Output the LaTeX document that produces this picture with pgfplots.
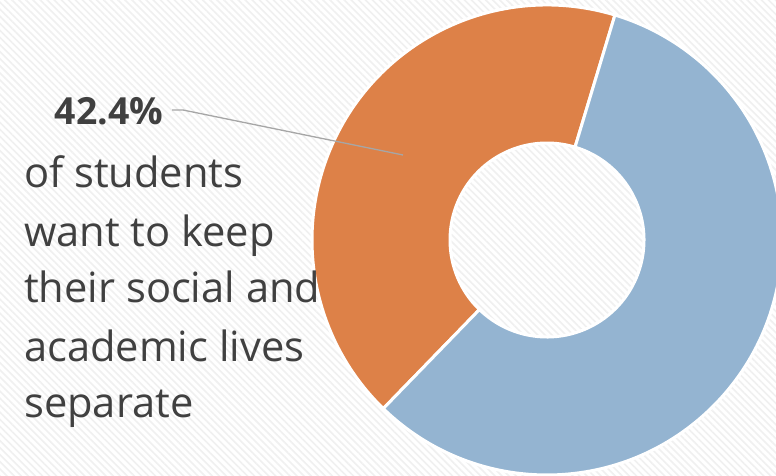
\documentclass[border=0pt]{standalone}
\usepackage{pgfplots}
\pgfplotsset{compat=1.18}
\usepackage{pgfplotstable}
\usetikzlibrary{patterns.meta}
\usepackage{fontspec}
\setmainfont{Open Sans}
\definecolor{cOrange}{RGB}{221,129,72}
\definecolor{cBlue}{RGB}{148,180,209}
\definecolor{cText}{RGB}{64,64,64}
\definecolor{cLeader}{RGB}{166,166,166}
\pgfplotstableread{
label value
separate 42.4
other 57.6
}\donutdata
\pgfplotstablegetelem{0}{value}\of\donutdata
\let\vSep\pgfplotsretval
\begin{document}
\begin{tikzpicture}
\begin{axis}[
  scale only axis, width=776bp, height=476bp,
  xmin=0, xmax=776, ymin=0, ymax=476,
  hide axis, clip=true,
]
\fill[white] (axis cs:0,0) rectangle (axis cs:776,476);
\fill[pattern={Lines[angle=-45,distance=5bp,line width=1.6bp]}, pattern color=black!6] (axis cs:0,0) rectangle (axis cs:776,476);
\pgfmathsetmacro\aStart{73.2}
\pgfmathsetmacro\aMid{\aStart+\vSep*3.6}
\pgfmathsetmacro\aEnd{\aStart+360}
% orange slice
\fill[cOrange, draw=white, line width=3bp, line join=miter]
  (axis cs:547,236) ++(\aStart:235) arc[start angle=\aStart, end angle=\aMid, radius=235]
  -- ++(\aMid:-138) arc[start angle=\aMid, end angle=\aStart, radius=97] -- cycle;
% blue slice
\fill[cBlue, draw=white, line width=3bp, line join=miter]
  (axis cs:547,236) ++(\aMid:235) arc[start angle=\aMid, end angle=\aEnd, radius=235]
  -- ++(\aEnd:-138) arc[start angle=\aEnd, end angle=\aMid, radius=97] -- cycle;
% leader line
\draw[cLeader, line width=1.3bp] (axis cs:172,366) -- (axis cs:183,366) -- (axis cs:403,321);
% texts
\node[anchor=base, text=cText, font=\fontsize{37.5}{45}\selectfont\bfseries, inner sep=0pt] at (axis cs:109,351) {42.4\%};
\node[anchor=base west, text=cText, font=\fontsize{41.8}{45}\selectfont, inner sep=0pt] at (axis cs:24,288) {of students};
\node[anchor=base west, text=cText, font=\fontsize{41.8}{45}\selectfont, inner sep=0pt] at (axis cs:24,229) {want to keep};
\node[anchor=base west, text=cText, font=\fontsize{41.8}{45}\selectfont, inner sep=0pt] at (axis cs:24,173) {their social and};
\node[anchor=base west, text=cText, font=\fontsize{41.8}{45}\selectfont, inner sep=0pt] at (axis cs:24,114) {academic lives};
\node[anchor=base west, text=cText, font=\fontsize{41.8}{45}\selectfont, inner sep=0pt] at (axis cs:24,58) {separate};
\end{axis}
\pgfresetboundingbox
\useasboundingbox (0,0) rectangle (776bp,476bp);
\end{tikzpicture}
\end{document}
